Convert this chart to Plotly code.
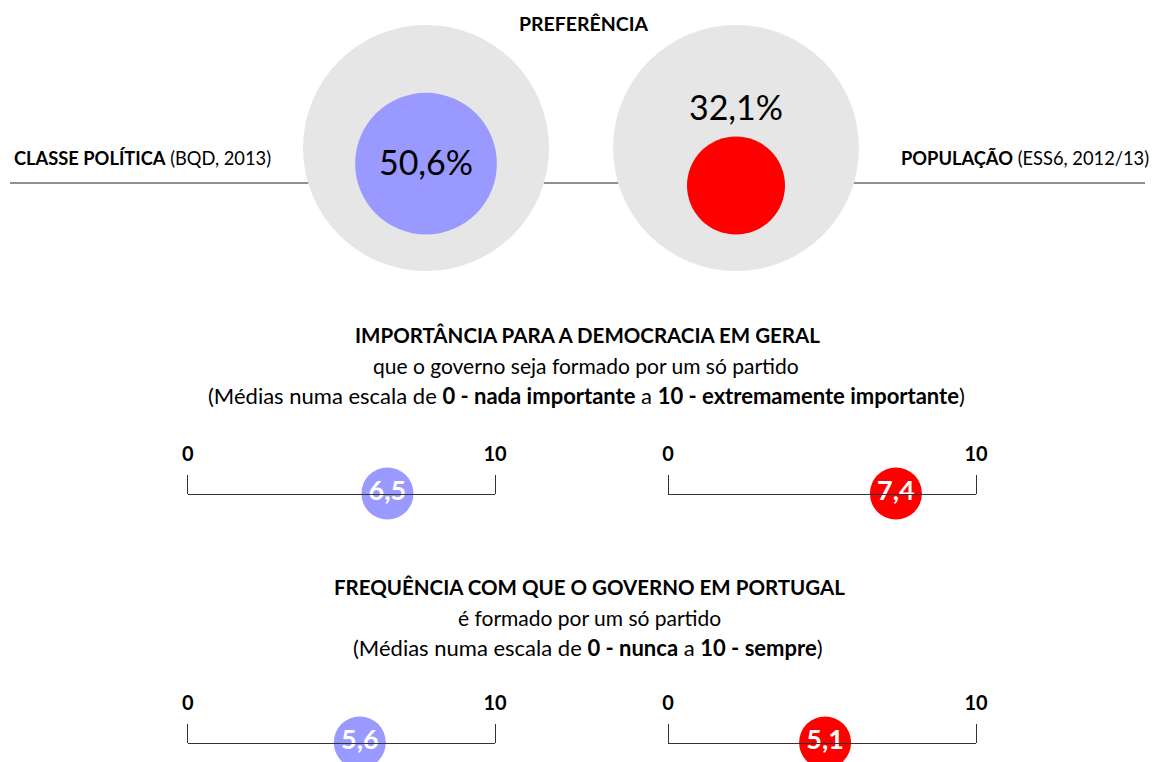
import plotly.graph_objects as go

# ---------------- data ----------------
groups = ["CLASSE POLÍTICA", "POPULAÇÃO"]
group_sources = ["(BQD, 2013)", "(ESS6, 2012/13)"]
preferencia = [50.6, 32.1]                 # % preference
importancia = [6.5, 7.4]                   # mean 0-10
frequencia = [5.6, 5.1]                    # mean 0-10
scale_ticks = [0, 10]
scale_ticktext = ["0", "10"]
colors = ["#9999FF", "#FF0000"]

W, H = 1152, 762
FONT = "Lato, 'Open Sans', sans-serif"
LINE = "#333333"


def fmt(v, pct=False):
    s = f"{v:.1f}".replace(".", ",")
    return s + ("%" if pct else "")


fig = go.Figure()

# --- preference bubbles (categorical x axis, pixel y axis) ---
OUTER_D = 246
OUTER_Y = 148
BASE_Y = 234.5
inner_r = [OUTER_D / 2 * (v / 100) ** 0.81 for v in preferencia]
inner_y = [BASE_Y - r for r in inner_r]

fig.add_trace(go.Scatter(
    x=groups, y=[OUTER_Y] * len(groups), mode="markers",
    marker=dict(size=OUTER_D, color="#E6E6E6", opacity=1, line=dict(width=0)),
    hoverinfo="skip", cliponaxis=False, showlegend=False))
fig.add_trace(go.Scatter(
    x=groups, y=inner_y, mode="markers",
    marker=dict(size=[2 * r for r in inner_r], color=colors, opacity=1,
                line=dict(width=0)),
    hoverinfo="skip", cliponaxis=False, showlegend=False))
# percentage labels: inside big bubble, above small one
lab_y = [y + 3 if r > 60 else y - r - 25 for y, r in zip(inner_y, inner_r)]
fig.add_trace(go.Scatter(
    x=groups, y=lab_y, mode="text",
    text=[fmt(v, True) for v in preferencia],
    textposition="middle center",
    textfont=dict(family=FONT, size=34, color="#000000"),
    hoverinfo="skip", cliponaxis=False, showlegend=False))

# --- scale markers ---
rows = [(importancia, 494, ("x3", "x4")), (frequencia, 743, ("x5", "x6"))]
for vals, ypix, axes in rows:
    for v, c, ax in zip(vals, colors, axes):
        fig.add_trace(go.Scatter(
            x=[v], y=[ypix - 0.5], xaxis=ax, yaxis="y", mode="markers+text",
            marker=dict(size=52, color=c, opacity=1, line=dict(width=0)),
            text=[fmt(v)], textposition="middle center",
            textfont=dict(family=FONT, size=27, color="white", weight="bold"),
            hoverinfo="skip", cliponaxis=False, showlegend=False))

# --- layout ---
left_dom = [187.7 / W, 495 / W]
right_dom = [668 / W, 976 / W]


def scale_axis(dom, ypix):
    return dict(
        domain=dom, range=[0, 10], anchor="free", position=1 - ypix / H,
        side="top", showline=True, linecolor=LINE, linewidth=1,
        showgrid=False, zeroline=False, tickmode="array",
        tickvals=scale_ticks, ticktext=scale_ticktext,
        ticks="outside", ticklen=19, tickwidth=1, tickcolor=LINE,
        ticklabelstandoff=6,
        tickfont=dict(family=FONT, size=20, color="#000000", weight="bold"),
        fixedrange=True)


fig.update_layout(
    width=W, height=H, margin=dict(l=0, r=0, t=0, b=0, autoexpand=False),
    paper_bgcolor="white", plot_bgcolor="rgba(0,0,0,0)",
    font=dict(family=FONT, color="#000000"),
    xaxis=dict(domain=[271 / W, 891 / W], range=[-0.5, 1.5], visible=False,
               type="category", fixedrange=True),
    yaxis=dict(range=[H, 0], visible=False, fixedrange=True, domain=[0, 1]),
    xaxis3=scale_axis(left_dom, 494),
    xaxis4=scale_axis(right_dom, 494),
    xaxis5=scale_axis(left_dom, 743),
    xaxis6=scale_axis(right_dom, 743),
    showlegend=False,
)

# horizontal guide line behind bubbles
fig.add_shape(type="line", xref="paper", yref="y", x0=10 / W, x1=1145 / W,
              y0=183, y1=183, line=dict(color="#222222", width=1), layer="below")

ann = []


def txt(text, x, y, size, xanchor="center", bold=False):
    ann.append(dict(text=(f"<b>{text}</b>" if bold else text), x=x / W, y=y,
                    xref="paper", yref="y", xanchor=xanchor, yanchor="middle",
                    showarrow=False, font=dict(family=FONT, size=size, color="#000000")))


txt("PREFERÊNCIA", 584, 23, 19.5, bold=True)
txt(f"<b>{groups[0]}</b> {group_sources[0]}", 12, 158, 18.3, xanchor="left")
txt(f"<b>{groups[1]}</b> {group_sources[1]}", 1151, 158, 18.3, xanchor="right")

txt("IMPORTÂNCIA PARA A DEMOCRACIA EM GERAL", 587, 335, 20.5, bold=True)
txt("que o governo seja formado por um só partido", 586, 365, 21)
txt("(Médias numa escala de <b>0 - nada importante</b> a <b>10 - extremamente importante</b>)",
    586, 395, 22)

txt("FREQUÊNCIA COM QUE O GOVERNO EM PORTUGAL", 589, 587, 20.5, bold=True)
txt("é formado por um só partido", 589, 617, 21)
txt("(Médias numa escala de <b>0 - nunca</b> a <b>10 - sempre</b>)", 588, 647, 22)

fig.update_layout(annotations=ann)

fig.write_html(
    "out.html",
    config={"displayModeBar": False},
    post_script="document.body.style.margin='0';document.body.style.overflow='hidden';",
)
